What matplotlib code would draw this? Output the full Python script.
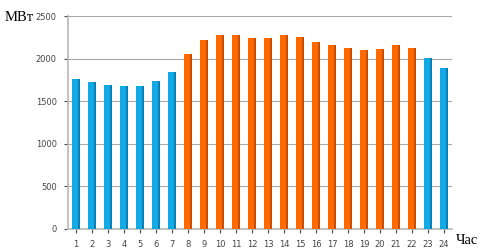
import numpy as np
import matplotlib.pyplot as plt

# hourly load, MW
hours = list(range(1, 25))
load = [1765, 1720, 1695, 1682, 1682, 1735, 1845, 2050, 2215, 2278, 2278, 2246,
        2242, 2274, 2254, 2200, 2156, 2130, 2103, 2113, 2160, 2130, 2008, 1885]
# peak hours drawn in orange
peak = [h for h in range(8, 23)]

blue = "#13A8E6"
blue_dark = "#0A7FB3"
orange = "#FF6A00"
orange_dark = "#C94E00"

fig = plt.figure(figsize=(4.85, 2.5), dpi=100)
ax = fig.add_axes([0.140, 0.084, 0.792, 0.852])

x = np.array(hours)
face = [orange if h in peak else blue for h in hours]
side = [orange_dark if h in peak else blue_dark for h in hours]

# front face and darker side face to fake the 3D column look
ax.bar(x - 0.27, load, width=0.42, align="edge", color=face, zorder=3)
ax.bar(x + 0.15, load, width=0.12, align="edge", color=side, zorder=3)

ax.set_xlim(0.5, 24.5)
ax.set_ylim(0, 2500)
ax.set_yticks([0, 500, 1000, 1500, 2000, 2500])
ax.set_xticks(hours)
ax.tick_params(axis="both", labelsize=6, colors="#444444", length=3, width=0.8)
ax.tick_params(axis="x", pad=5)
ax.tick_params(axis="y", pad=5)
ax.yaxis.grid(True, color="#a8a8a8", linewidth=0.8, zorder=0)
ax.set_axisbelow(True)

for s in ["top", "right"]:
    ax.spines[s].set_visible(False)
for s in ["left", "bottom"]:
    ax.spines[s].set_color("#b8b8b8")
    ax.spines[s].set_linewidth(1.2)

fig.text(0.01, 0.915, "MВт", family="Liberation Serif", fontsize=10.5, color="black")
fig.text(0.94, 0.025, "Час", family="Liberation Serif", fontsize=10.5, color="black")

fig.savefig("out.png", dpi=100)
